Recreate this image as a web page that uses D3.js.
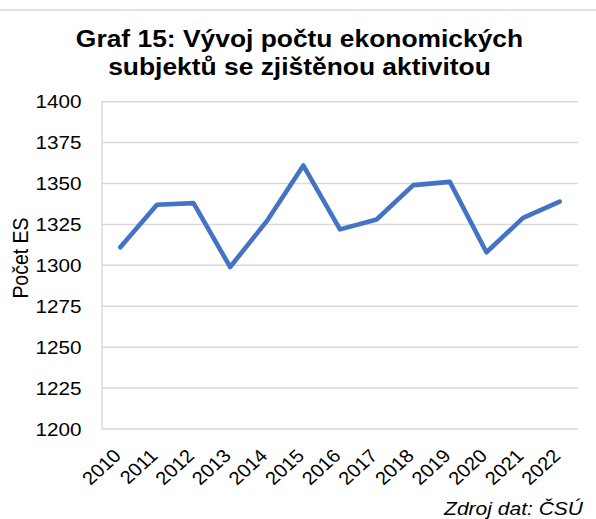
<!DOCTYPE html>
<html>
<head>
<meta charset="utf-8">
<script src="https://cdn.jsdelivr.net/npm/d3@7"></script>
<style>
  html, body { margin: 0; padding: 0; background: #fff; }
  svg { display: block; }
  text { font-family: "Liberation Sans", Arial, sans-serif; fill: #000; }
</style>
</head>
<body>
<svg id="chart" width="596" height="519"></svg>
<script>
const titleLines = ["Graf 15: Vývoj počtu ekonomických", "subjektů se zjištěnou aktivitou"];
const yAxisTitle = "Počet ES";
const sourceNote = "Zdroj dat: ČSÚ";
const years = ["2010","2011","2012","2013","2014","2015","2016","2017","2018","2019","2020","2021","2022"];
const counts = [1311, 1337, 1338, 1299, 1327, 1361, 1322, 1328, 1349, 1351, 1308, 1329, 1339];
const yTicks = [1200, 1225, 1250, 1275, 1300, 1325, 1350, 1375, 1400];

const W = 596, H = 519;
const plot = { left: 102, right: 578, top: 101.7, bottom: 429 };
const SX = 1.1; // horizontal stretch of text in the reference

const svg = d3.select("#chart");

// top border line
svg.append("line")
  .attr("x1", 0).attr("x2", W).attr("y1", 10).attr("y2", 10)
  .attr("stroke", "#d9d9d9").attr("stroke-width", 1.5);

const x = d3.scalePoint().domain(years).range([plot.left, plot.right]).padding(0.5);
const y = d3.scaleLinear().domain([1200, 1400]).range([plot.bottom, plot.top]);

// gridlines
svg.append("g").selectAll("line").data(yTicks).join("line")
  .attr("x1", plot.left).attr("x2", plot.right)
  .attr("y1", d => y(d)).attr("y2", d => y(d))
  .attr("stroke", "#d9d9d9").attr("stroke-width", 1.5);

// left axis line
svg.append("line")
  .attr("x1", plot.left).attr("x2", plot.left)
  .attr("y1", y(1400)).attr("y2", y(1200))
  .attr("stroke", "#d9d9d9").attr("stroke-width", 1.5);

// y tick labels
svg.append("g").selectAll("text").data(yTicks).join("text")
  .attr("transform", d => `translate(81.5,${y(d)}) scale(${SX},1)`)
  .attr("text-anchor", "end")
  .attr("dy", "0.35em")
  .style("font-size", "18.8px")
  .text(d => d);

// x tick labels
svg.append("g").selectAll("text").data(years).join("text")
  .attr("transform", d => `translate(${x(d) + 2},457) scale(${SX},1) rotate(-45)`)
  .attr("text-anchor", "end")
  .style("font-size", "18.4px")
  .text(d => d);

// line
const line = d3.line().x((d, i) => x(years[i])).y(d => y(d));
svg.append("path")
  .datum(counts)
  .attr("d", line)
  .attr("fill", "none")
  .attr("stroke", "#4472C4")
  .attr("stroke-width", 4.6)
  .attr("stroke-linejoin", "round")
  .attr("stroke-linecap", "round");

// title
svg.append("g").selectAll("text").data(titleLines).join("text")
  .attr("transform", (d, i) => `translate(299.5,${47 + i * 28}) scale(${SX},1)`)
  .attr("text-anchor", "middle")
  .style("font-size", "24px")
  .style("font-weight", "bold")
  .text(d => d);

// y axis title
svg.append("text")
  .attr("transform", `translate(27.5,258) rotate(-90) scale(1,${SX})`)
  .attr("text-anchor", "middle")
  .style("font-size", "19.5px")
  .text(yAxisTitle);

// source note
svg.append("text")
  .attr("transform", `translate(583,514.5) scale(1.13,1)`)
  .attr("text-anchor", "end")
  .style("font-size", "18.6px")
  .style("font-style", "italic")
  .text(sourceNote);
</script>
</body>
</html>
